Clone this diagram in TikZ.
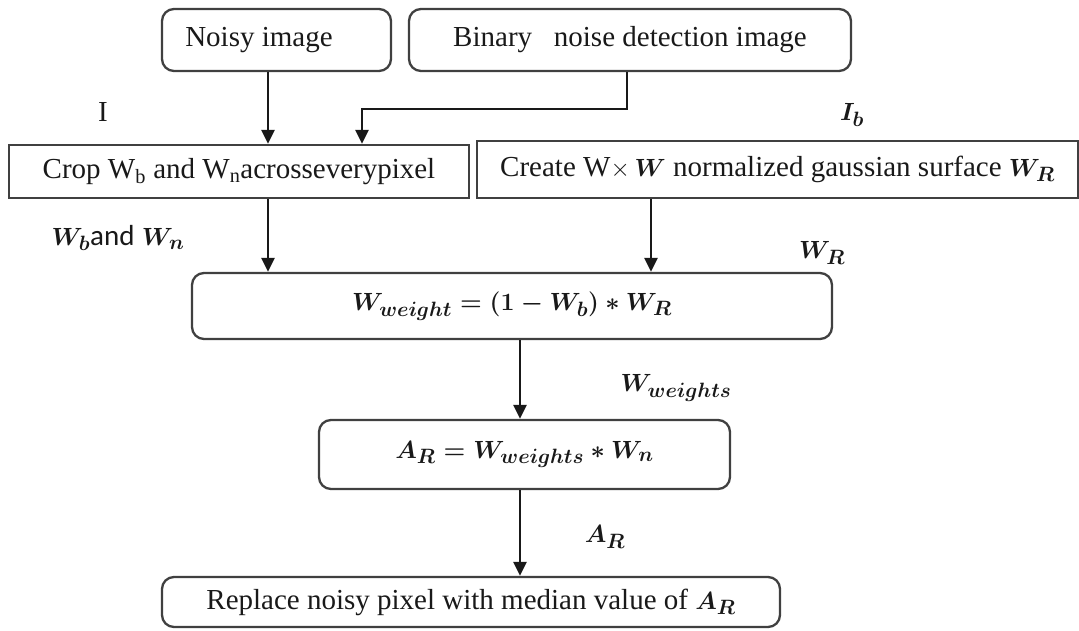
\documentclass[tikz,border=0pt]{standalone}
\usepackage{fontspec}
\setmainfont{Liberation Serif}
\newfontfamily\calib{Carlito}
\usetikzlibrary{arrows.meta}
\newcommand\mymath[1]{{\fontsize{32}{36}\selectfont\boldmath$#1$}}
\begin{document}
\begin{tikzpicture}[x=1pt,y=-1pt,
  every node/.style={font=\fontsize{29}{33}\selectfont, text=black!90},
  rbox/.style={draw=black!75, line width=2.3pt, rounded corners=12pt, inner sep=0pt},
  sbox/.style={draw=black!75, line width=2.3pt, inner sep=0pt},
  arr/.style={draw=black!90, line width=2.3pt, -{Triangle[width=13pt,length=14pt]}},
  lbl/.style={inner sep=0pt}]
\useasboundingbox (0,0) rectangle (1079,630);
\fill[white] (0,0) rectangle (1079,630);
% boxes
\node[rbox, minimum width=229pt, minimum height=62pt] (noisy) at (276.5,40) {};
\node[lbl] (noisyt) at (259,40) {Noisy image};
\node[rbox, minimum width=442pt, minimum height=62pt] (binary) at (630,40) {Binary\ \ \ noise detection image};
\node[sbox, minimum width=460pt, minimum height=53pt] (crop) at (239,171.5) {Crop W\textsubscript{b} and W\textsubscript{n}acrosseverypixel};
\node[sbox, minimum width=601pt, minimum height=57pt] (create) at (777.5,169.5) {Create W$\times$\,\mymath{W} normalized gaussian surface \mymath{W_R}};
\node[rbox, minimum width=640pt, minimum height=66pt] (weight) at (512,306) {\mymath{W_{weight} = (1 - W_b) \ast W_R}};
\node[rbox, minimum width=411pt, minimum height=69pt] (ar) at (524.5,454.5) {\mymath{A_R = W_{weights} \ast W_n}};
\node[rbox, minimum width=618pt, minimum height=50pt] (replace) at (471,602) {Replace noisy pixel with median value of \mymath{A_R}};
% helper coordinates
\coordinate (c1) at (268,0);
\coordinate (c2) at (651,0);
\coordinate (c3) at (520,0);
\coordinate (bturn) at (362,109);
% connectors
\draw[arr] (noisy.south -| c1) -- (crop.north -| c1);
\draw[arr] ([xshift=-3pt]binary.south) |- (bturn) -- (bturn |- crop.north);
\draw[arr] (crop.south -| c1) -- (weight.north -| c1);
\draw[arr] (create.south -| c2) -- (weight.north -| c2);
\draw[arr] (weight.south -| c3) -- (ar.north -| c3);
\draw[arr] (ar.south -| c3) -- (replace.north -| c3);
% labels
\node[lbl] (lI) at (103,112) {I};
\node[lbl] (lIb) at (852,115) {\mymath{I_b}};
\node[lbl] (lWbn) at (118,238) {\mymath{W_b}{\calib and} \mymath{W_n}};
\node[lbl] (lWR) at (822,253) {\mymath{W_R}};
\node[lbl] (lWw) at (676,388) {\mymath{W_{weights}}};
\node[lbl] (lAR) at (605,537) {\mymath{A_R}};
\end{tikzpicture}
\end{document}
